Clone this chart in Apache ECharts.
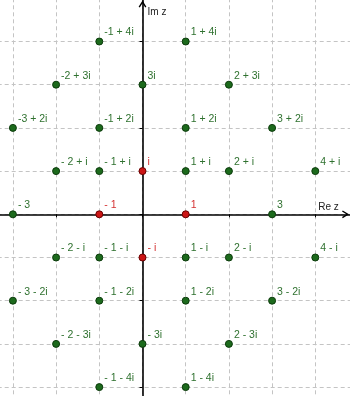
<!DOCTYPE html>
<html>
<head>
<meta charset="utf-8">
<script src="https://cdn.jsdelivr.net/npm/echarts@6/dist/echarts.min.js"></script>
<style>
  html, body { margin: 0; padding: 0; background: #fff; }
  #chart { width: 350px; height: 396px; }
</style>
</head>
<body>
<div id="chart"></div>
<script>
// Gaussian integers plotted in the complex plane
const greenRe = [-1, 1, -2, 0, 2, -3, -1, 1, 3, -2, -1, 1, 2, 4, -3, 3, -2, -1, 1, 2, 4, -3, -1, 1, 3, -2, 0, 2, -1, 1];
const greenIm = [4, 4, 3, 3, 3, 2, 2, 2, 2, 1, 1, 1, 1, 1, 0, 0, -1, -1, -1, -1, -1, -2, -2, -2, -2, -3, -3, -3, -4, -4];
const greenLabels = [
  '-1 + 4i', '1 + 4i',
  '-2 + 3i', '3i', '2 + 3i',
  '-3 + 2i', '-1 + 2i', '1 + 2i', '3 + 2i',
  '- 2 + i', '- 1 + i', '1 + i', '2 + i', '4 + i',
  '- 3', '3',
  '- 2 - i', '- 1 - i', '1 - i', '2 - i', '4 - i',
  '- 3 - 2i', '- 1 - 2i', '1 - 2i', '3 - 2i',
  '- 2 - 3i', '- 3i', '2 - 3i',
  '- 1 - 4i', '1 - 4i'
];

// The four units
const redRe = [0, -1, 1, 0];
const redIm = [1, 0, 0, -1];
const redLabels = ['i', '- 1', '1', '- i'];

// Integer grid ranges of the plane
const reTicks = [-4, 5];
const imTicks = [-5, 5];

const FONT = '"Liberation Sans", Arial, sans-serif';

const chart = echarts.init(document.getElementById('chart'), null, { renderer: 'canvas' });

const toData = (re, im, labels) => re.map((r, i) => [r, im[i], labels[i]]);

const chevron = 'path://M5,0 L10,8 L8.5,9 L5,3.4 L1.5,9 L0,8 Z';

function pointSeries(name, data, fill, border, textColor) {
  return {
    name: name,
    type: 'scatter',
    data: data,
    symbol: 'circle',
    symbolSize: 7,
    itemStyle: { color: fill, borderColor: border, borderWidth: 1, opacity: 1 },
    label: {
      show: true,
      position: 'right',
      distance: 1,
      offset: [0, -9],
      formatter: p => p.data[2],
      color: textColor,
      fontSize: 10.5,
      fontFamily: FONT
    },
    emphasis: { disabled: true },
    z: 5
  };
}

const axisCommon = {
  type: 'value',
  interval: 1,
  axisLabel: { show: false },
  axisTick: { show: true, length: 3, lineStyle: { color: '#000', width: 1 } },
  splitLine: { show: true, lineStyle: { color: '#c4c4c4', width: 1, type: [4, 3] } }
};

const option = {
  animation: false,
  backgroundColor: '#ffffff',
  grid: {
    left: -30.3,
    top: -1.7,
    width: 388.8,
    height: 432,
    containLabel: false,
    outerBoundsMode: 'none'
  },
  xAxis: Object.assign({}, axisCommon, {
    min: reTicks[0],
    max: reTicks[1],
    axisLine: {
      show: true,
      onZero: true,
      symbol: ['none', chevron],
      symbolSize: [10, 7],
      symbolOffset: [0, -13],
      lineStyle: { color: '#000', width: 1.6 }
    }
  }),
  yAxis: Object.assign({}, axisCommon, {
    min: imTicks[0],
    max: imTicks[1],
    axisLine: {
      show: true,
      onZero: true,
      symbol: ['none', chevron],
      symbolSize: [10, 7],
      symbolOffset: [0, -5.7],
      lineStyle: { color: '#000', width: 1.6 }
    }
  }),
  series: [
    pointSeries('integers', toData(greenRe, greenIm, greenLabels), '#1c6a1c', '#0b3a0b', '#2f712f'),
    pointSeries('units', toData(redRe, redIm, redLabels), '#cc1515', '#6a0000', '#d43232')
  ]
};

chart.setOption(option);

// Axis names placed next to the axes
const origin = chart.convertToPixel({ gridIndex: 0 }, [0, 0]);
const reFour = chart.convertToPixel({ gridIndex: 0 }, [4, 0]);
chart.setOption({
  graphic: [
    {
      type: 'text',
      x: origin[0] + 5,
      y: 12,
      style: { text: 'Im z', fill: '#222', font: '10px ' + FONT, textVerticalAlign: 'middle', verticalAlign: 'middle' },
      silent: true
    },
    {
      type: 'text',
      x: reFour[0] + 3,
      y: origin[1] - 7,
      style: { text: 'Re z', fill: '#222', font: '10px ' + FONT, textVerticalAlign: 'middle', verticalAlign: 'middle' },
      silent: true
    }
  ]
});
</script>
</body>
</html>
